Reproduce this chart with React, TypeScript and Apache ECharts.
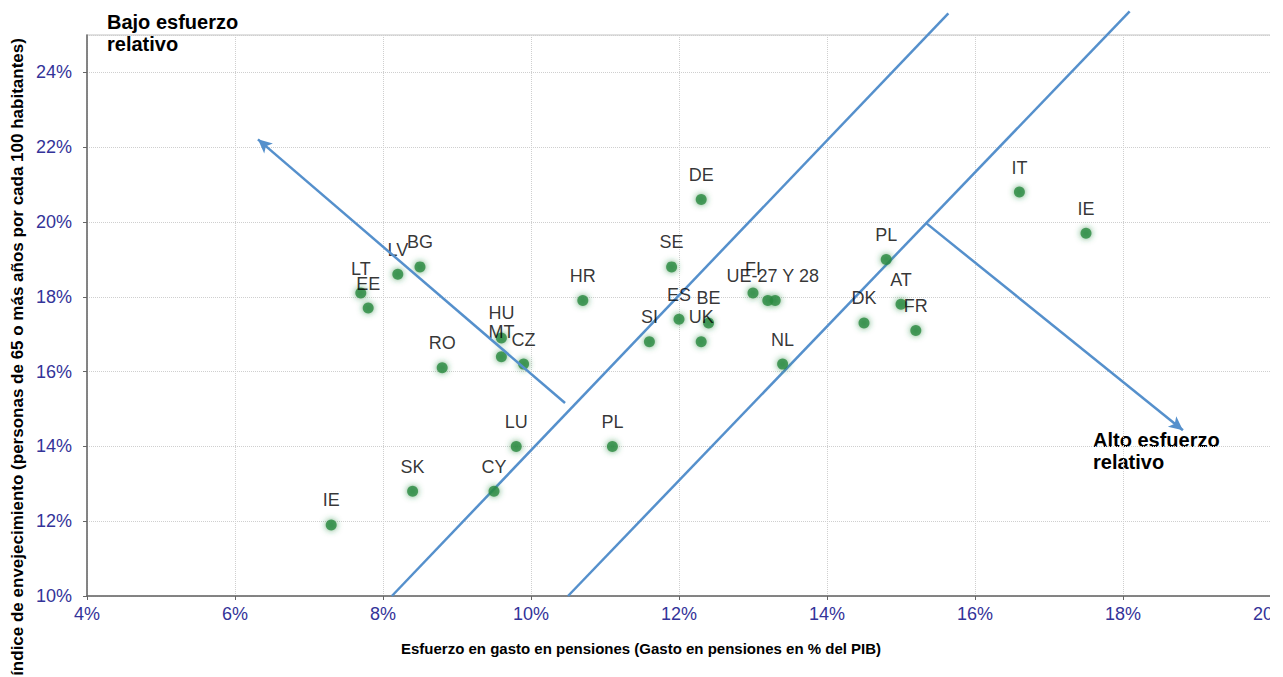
import React, { useEffect, useRef } from "react";
import * as echarts from "echarts";

const countries = ["IE", "SK", "CY", "LU", "PL", "RO", "HU", "MT", "CZ", "LT", "EE", "LV", "BG", "HR", "DE", "SE", "ES", "SI", "UK", "BE", "FI", "UE-27 Y 28", "", "NL", "DK", "PL", "AT", "FR", "IT", "IE"];
const gasto = [7.3, 8.4, 9.5, 9.8, 11.1, 8.8, 9.6, 9.6, 9.9, 7.7, 7.8, 8.2, 8.5, 10.7, 12.3, 11.9, 12.0, 11.6, 12.3, 12.4, 13.0, 13.2, 13.3, 13.4, 14.5, 14.8, 15.0, 15.2, 16.6, 17.5];
const indice = [11.9, 12.8, 12.8, 14.0, 14.0, 16.1, 16.9, 16.4, 16.2, 18.1, 17.7, 18.6, 18.8, 17.9, 20.6, 18.8, 17.4, 16.8, 16.8, 17.3, 18.1, 17.9, 17.9, 16.2, 17.3, 19.0, 17.8, 17.1, 20.8, 19.7];

// guide lines (data coordinates)
const frontierA = [[8.12, 10], [15.64, 25.58]];
const frontierB = [[10.5, 10], [18.09, 25.63]];
const arrowLow = [[10.46, 15.16], [6.31, 22.21]];
const arrowHigh = [[15.34, 19.97], [18.81, 14.43]];

const xTicks = { min: 4, max: 20, interval: 2 };
const yTicks = { min: 10, max: 25, interval: 2 };

const FONT = "'Liberation Sans', Arial, sans-serif";
const BLUE = "#5590cc";

export default function App() {
  const ref = useRef<HTMLDivElement>(null);
  useEffect(() => {
    const chart = echarts.init(ref.current!, null, { renderer: "svg" });
    const pts = gasto.map((g, i) => ({
      value: [g, indice[i]],
      name: countries[i],
      label: countries[i] === "UE-27 Y 28" ? { offset: [5, 0] } : undefined,
    }));
    const guide = (d: number[][]) => ({
      type: "line",
      data: d,
      clip: false,
      symbol: "none",
      silent: true,
      lineStyle: { color: BLUE, width: 2.5 },
      z: 1,
    });
    chart.setOption({
      animation: false,
      grid: { left: 87, right: 49, top: 35, bottom: 81, show: true, borderColor: "#d8d8d8", borderWidth: 1.5 },
      xAxis: {
        type: "value",
        min: xTicks.min,
        max: xTicks.max,
        interval: xTicks.interval,
        axisLine: { show: true, lineStyle: { color: "#666", width: 1.5 } },
        axisTick: { show: true, length: 4, lineStyle: { color: "#666" } },
        axisLabel: { formatter: (v: number) => `${v}%`, color: "#333399", fontSize: 18, fontFamily: FONT, margin: 9 },
        splitLine: { show: true, lineStyle: { color: "#cfcfcf", type: "dotted" } },
      },
      yAxis: {
        type: "value",
        min: yTicks.min,
        max: yTicks.max,
        interval: yTicks.interval,
        axisLine: { show: true, lineStyle: { color: "#666", width: 1.5 } },
        axisTick: { show: true, length: 4, lineStyle: { color: "#666" } },
        axisLabel: {
          formatter: (v: number) => `${v}%`,
          color: "#333399",
          fontSize: 18,
          fontFamily: FONT,
          margin: 15,
          showMaxLabel: false,
        },
        splitLine: { show: true, lineStyle: { color: "#cfcfcf", type: "dotted" } },
      },
      series: [
        guide(frontierA),
        guide(frontierB),
        {
          type: "scatter",
          data: pts,
          symbol: "circle",
          symbolSize: 11,
          z: 3,
          itemStyle: { color: "#2a8a40", shadowBlur: 6, shadowColor: "rgba(42,138,64,0.9)" },
          label: {
            show: true,
            position: "top",
            distance: 10,
            formatter: "{b}",
            color: "#000",
            fontSize: 18,
            fontFamily: FONT,
          },
          markLine: {
            silent: true,
            animation: false,
            symbol: ["none", "none"],
            label: { show: false },
            data: [
              [
                { coord: arrowLow[0], symbol: "none" },
                { coord: arrowLow[1], symbol: "arrow", symbolSize: [10, 14] },
              ],
              [
                { coord: arrowHigh[0], symbol: "none" },
                { coord: arrowHigh[1], symbol: "arrow", symbolSize: [10, 14] },
              ],
            ],
            lineStyle: { color: BLUE, width: 2.5, type: "solid" },
          },
        },
      ],
      graphic: [
        {
          type: "text",
          left: 107,
          top: 11,
          style: { text: "Bajo esfuerzo\nrelativo", font: `bold 20px ${FONT}`, fill: "#000", lineHeight: 22 },
        },
        {
          type: "text",
          left: 1093,
          top: 429,
          style: { text: "Alto esfuerzo\nrelativo", font: `bold 20px ${FONT}`, fill: "#000", lineHeight: 22 },
        },
        {
          type: "text",
          x: 641,
          y: 648,
          style: {
            text: "Esfuerzo en gasto en pensiones (Gasto en pensiones en % del PIB)",
            font: `bold 15px ${FONT}`,
            fill: "#000",
            align: "center",
            verticalAlign: "middle",
          },
        },
        {
          type: "text",
          x: 17,
          y: 357,
          rotation: Math.PI / 2,
          style: {
            text: "índice de envejecimiento (personas de 65 o más años por cada 100 habitantes)",
            font: `bold 17px ${FONT}`,
            fill: "#000",
            align: "center",
            verticalAlign: "middle",
          },
        },
      ],
    });
    return () => chart.dispose();
  }, []);
  return (
    <div style={{ position: "fixed", left: 0, top: 0, width: 1270, height: 677, overflow: "hidden", background: "#fff" }}>
      <div ref={ref} style={{ width: 1320, height: 677 }} />
    </div>
  );
}
